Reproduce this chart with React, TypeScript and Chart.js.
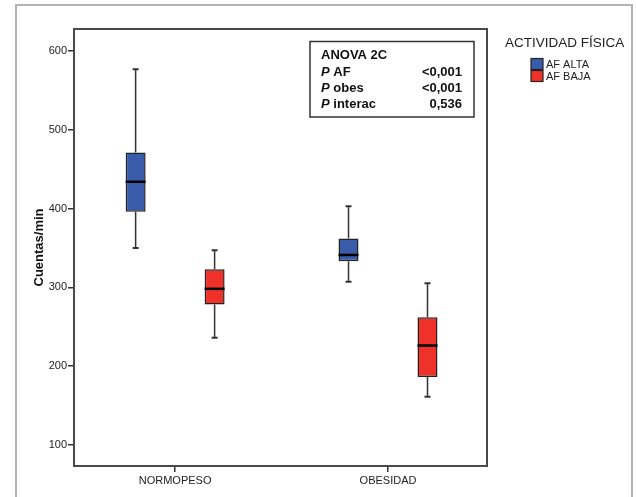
import React, { useEffect, useRef } from 'react';
import { Chart, registerables } from 'chart.js';

Chart.register(...registerables);

const categories = ['NORMOPESO', 'OBESIDAD'];
const seriesLabels = ['AF ALTA', 'AF BAJA'];
const seriesColors = ['#3A5BA9', '#EE3129'];

const altaMin = [350, 307];
const altaQ1 = [396, 333];
const altaMedian = [434, 341];
const altaQ3 = [471, 362];
const altaMax = [577, 403];

const bajaMin = [236, 161];
const bajaQ1 = [278, 186];
const bajaMedian = [298, 226];
const bajaQ3 = [323, 262];
const bajaMax = [347, 305];

const yTicks = [100, 200, 300, 400, 500, 600];
const yTitle = 'Cuentas/min';
const legendTitle = 'ACTIVIDAD FÍSICA';
const anovaTitle = 'ANOVA 2C';
const anovaRows: [string, string, string][] = [
  ['P', 'AF', '<0,001'],
  ['P', 'obes', '<0,001'],
  ['P', 'interac', '0,536'],
];

const FONT = '"Liberation Sans", Arial, Helvetica, sans-serif';

const stats = [
  { min: altaMin, q1: altaQ1, med: altaMedian, q3: altaQ3, max: altaMax },
  { min: bajaMin, q1: bajaQ1, med: bajaMedian, q3: bajaQ3, max: bajaMax },
];

const boxPlugin = {
  id: 'boxWhiskers',
  beforeDraw(chart: any) {
    const ctx = chart.ctx;
    ctx.save();
    ctx.fillStyle = '#ffffff';
    ctx.fillRect(0, 0, chart.width, chart.height);
    ctx.strokeStyle = '#b4b4b4';
    ctx.lineWidth = 2;
    ctx.beginPath();
    ctx.moveTo(16, chart.height + 5);
    ctx.lineTo(16, 5);
    ctx.lineTo(632, 5);
    ctx.lineTo(632, chart.height + 5);
    ctx.stroke();
    ctx.restore();
  },
  beforeDatasetsDraw(chart: any) {
    const ctx = chart.ctx;
    const y = chart.scales.y;
    ctx.save();
    ctx.strokeStyle = '#333333';
    ctx.lineWidth = 1.5;
    stats.forEach((s, i) => {
      const meta = chart.getDatasetMeta(i);
      meta.data.forEach((bar: any, j: number) => {
        const x = bar.x;
        const yMin = y.getPixelForValue(s.min[j]);
        const yQ1 = y.getPixelForValue(s.q1[j]);
        const yQ3 = y.getPixelForValue(s.q3[j]);
        const yMax = y.getPixelForValue(s.max[j]);
        ctx.beginPath();
        ctx.moveTo(x, yMin);
        ctx.lineTo(x, yQ1);
        ctx.moveTo(x, yQ3);
        ctx.lineTo(x, yMax);
        ctx.stroke();
        ctx.save();
        ctx.lineWidth = 2;
        ctx.beginPath();
        ctx.moveTo(x - 3, yMin);
        ctx.lineTo(x + 3, yMin);
        ctx.moveTo(x - 3, yMax);
        ctx.lineTo(x + 3, yMax);
        ctx.stroke();
        ctx.restore();
      });
    });
    ctx.restore();
  },
  afterDatasetsDraw(chart: any) {
    const ctx = chart.ctx;
    const y = chart.scales.y;
    ctx.save();
    ctx.strokeStyle = '#000000';
    ctx.lineWidth = 2.5;
    stats.forEach((s, i) => {
      const meta = chart.getDatasetMeta(i);
      meta.data.forEach((bar: any, j: number) => {
        const half = bar.width / 2;
        const yMed = y.getPixelForValue(s.med[j]);
        ctx.beginPath();
        ctx.moveTo(bar.x - half, yMed);
        ctx.lineTo(bar.x + half, yMed);
        ctx.stroke();
      });
    });
    ctx.restore();
  },
  afterDraw(chart: any) {
    const ctx = chart.ctx;
    const a = chart.chartArea;
    ctx.save();
    ctx.strokeStyle = '#4a4a4a';
    ctx.lineWidth = 2;
    ctx.strokeRect(a.left, a.top, a.right - a.left, a.bottom - a.top);

    ctx.fillStyle = '#ffffff';
    ctx.fillRect(310, 41.5, 164, 75.5);
    ctx.strokeStyle = '#333333';
    ctx.lineWidth = 1.5;
    ctx.strokeRect(310, 41.5, 164, 75.5);
    ctx.fillStyle = '#111111';
    ctx.textBaseline = 'middle';
    ctx.textAlign = 'left';
    ctx.font = `bold 13px ${FONT}`;
    ctx.fillText(anovaTitle, 321, 55.5);
    anovaRows.forEach((row, k) => {
      const yy = 72 + k * 16.3;
      ctx.textAlign = 'left';
      ctx.font = `italic bold 13px ${FONT}`;
      ctx.fillText(row[0], 321, yy);
      const pw = ctx.measureText(row[0] + ' ').width;
      ctx.font = `bold 13px ${FONT}`;
      ctx.fillText(row[1], 321 + pw, yy);
      ctx.textAlign = 'right';
      ctx.fillText(row[2], 462, yy);
    });

    ctx.textAlign = 'left';
    ctx.fillStyle = '#222222';
    ctx.font = `13.5px ${FONT}`;
    ctx.fillText(legendTitle, 505, 43);
    seriesLabels.forEach((lab, k) => {
      const top = 58.5 + k * 12;
      ctx.fillStyle = seriesColors[k];
      ctx.fillRect(531, top, 12, 11);
      ctx.strokeStyle = '#222222';
      ctx.lineWidth = 1.2;
      ctx.strokeRect(531, top, 12, 11);
      ctx.fillStyle = '#222222';
      ctx.font = `11px ${FONT}`;
      ctx.fillText(lab, 546, top + 6);
    });
    ctx.restore();
  },
};

export default function App() {
  const canvasRef = useRef<HTMLCanvasElement | null>(null);

  useEffect(() => {
    document.body.style.margin = '0';
    const canvas = canvasRef.current;
    if (!canvas) return;
    const datasets = stats.map((s, i) => ({
      label: seriesLabels[i],
      data: categories.map((_, j) => ({ x: j, y: [s.q1[j], s.q3[j]] })),
      backgroundColor: seriesColors[i],
      borderColor: '#222222',
      borderWidth: 1.5,
      borderSkipped: false,
      categoryPercentage: 0.742,
      barPercentage: 0.253,
    }));
    const chart = new Chart(canvas, {
      type: 'bar',
      data: { datasets } as any,
      plugins: [boxPlugin],
      options: {
        animation: false,
        responsive: false,
        devicePixelRatio: 1,
        layout: { padding: { top: 29, right: 149, left: 0, bottom: 0 } },
        plugins: {
          legend: { display: false },
          tooltip: { enabled: false },
        },
        scales: {
          x: {
            type: 'linear',
            min: -0.475,
            max: 1.465,
            offset: false,
            afterBuildTicks: (axis: any) => {
              axis.ticks = categories.map((_, j) => ({ value: j }));
            },
            afterFit: (axis: any) => {
              axis.height = 31;
            },
            ticks: {
              autoSkip: false,
              maxRotation: 0,
              padding: 2,
              color: '#222222',
              font: { family: FONT, size: 11 },
              callback: (v: any) => categories[v] ?? '',
            },
            grid: {
              display: true,
              offset: false,
              drawOnChartArea: false,
              drawTicks: true,
              tickLength: 6,
              color: '#333333',
              lineWidth: 1.5,
            },
            border: { display: false },
          },
          y: {
            type: 'linear',
            min: 73,
            max: 628,
            afterBuildTicks: (axis: any) => {
              axis.ticks = yTicks.map((v) => ({ value: v }));
            },
            afterFit: (axis: any) => {
              axis.width = 74;
            },
            ticks: {
              padding: 1,
              color: '#222222',
              font: { family: FONT, size: 11 },
              callback: (v: any) => String(v),
            },
            grid: {
              display: true,
              drawOnChartArea: false,
              drawTicks: true,
              tickLength: 6,
              color: '#333333',
              lineWidth: 1.5,
            },
            border: { display: false },
            title: {
              display: true,
              text: yTitle,
              color: '#111111',
              font: { family: FONT, size: 13, weight: 'bold' },
              padding: { top: 32, bottom: 0 },
            },
          },
        },
      } as any,
    });
    return () => chart.destroy();
  }, []);

  return (
    <div style={{ width: 636, height: 497 }}>
      <canvas ref={canvasRef} width={636} height={497} style={{ display: 'block' }} />
    </div>
  );
}
